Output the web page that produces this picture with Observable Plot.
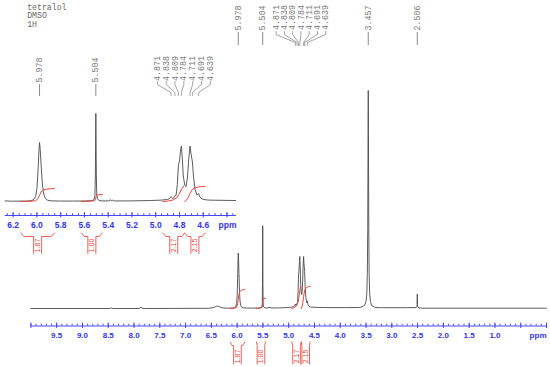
<!DOCTYPE html>
<html><head><meta charset="utf-8">
<script src="https://cdn.jsdelivr.net/npm/d3@7"></script>
<script src="https://cdn.jsdelivr.net/npm/@observablehq/plot@0.6"></script>
<style>
body{margin:0;background:#fff;}
#wrap{position:relative;width:550px;height:367px;}
#wrap svg{position:absolute;left:0;top:0;overflow:visible;}
</style></head><body><div id="wrap"></div>
<script>
// ---------- DATA ----------
const titleLines = ["tetralol", "DMSO", "1H"];
// spectrum: chemical shift (ppm) and intensity (arbitrary units, largest peak ≈ 218)
const spectrumPpm = [10.0, 8.47, 8.44, 8.41, 7.90, 7.865, 7.85, 7.80, 6.55, 6.45, 6.40, 6.36, 6.30, 6.22,
  6.10, 6.06, 6.03, 6.01, 6.00, 5.99, 5.983, 5.978, 5.973, 5.965, 5.955, 5.945, 5.93, 5.91, 5.88, 5.80, 5.70, 5.60,
  5.54, 5.52, 5.512, 5.508, 5.504, 5.500, 5.496, 5.49, 5.48, 5.46, 5.40, 5.378, 5.37, 5.362, 5.35, 5.20, 5.05,
  4.95, 4.90, 4.885, 4.871, 4.858, 4.846, 4.838, 4.828, 4.818, 4.809, 4.800, 4.792, 4.784, 4.777, 4.768, 4.755,
  4.745, 4.733, 4.722, 4.711, 4.703, 4.691, 4.681, 4.668, 4.652, 4.639, 4.627, 4.61, 4.58, 4.55, 4.50, 4.30,
  3.90, 3.65, 3.60, 3.53, 3.50, 3.485, 3.475, 3.467, 3.46, 3.457, 3.454, 3.447, 3.44, 3.43, 3.415, 3.39, 3.33,
  3.25, 3.20, 3.19, 3.18, 2.70, 2.53, 2.515, 2.51, 2.506, 2.502, 2.497, 2.48, 2.40, 0.0];
const spectrumIntensity = [0, 0, 0.6, 0, 0, 1.6, 0.3, 0, 0.2, 1.0, 2.4, 2.2, 0.8, 0.3,
  0.4, 0.6, 1.5, 5, 12, 30, 48, 55.4, 50, 35, 18, 8, 3, 1.2, 0.6, 0.4, 0.4, 0.5,
  0.8, 1.6, 5, 25, 82.7, 25, 6, 2.5, 1.2, 0.6, 0.5, 1.6, 0.6, 1.3, 0.5, 0.6, 0.9,
  1.3, 2.0, 2.6, 4.5, 2.8, 3.6, 5.5, 6, 16, 34, 38, 47, 52, 42, 24, 15,
  14, 22, 40, 52, 45, 37, 22, 11, 6, 7.5, 4, 2.4, 1.6, 1.3, 1.2, 0.9,
  0.9, 1.0, 1.3, 3, 7, 15, 35, 80, 180, 218, 180, 80, 35, 15, 7, 3, 1.2,
  0.8, 0.8, 1.5, 0.8, 0.8, 0.9, 1.8, 4, 14.4, 4, 1.8, 0.6, 0.3, 0.3];

// peak picking labels
const mainSinglePeaks = [5.978, 5.504, 3.457, 2.506];
const insetSinglePeaks = [5.978, 5.504];
const multipletPeaks = [4.871, 4.838, 4.809, 4.784, 4.711, 4.691, 4.639];

// integrals
const integralLabels = ["1.87", "1.00", "2.17", "2.15"];
const integralFrom = [6.135, 5.625, 4.94, 4.756];
const integralTo = [5.853, 5.45, 4.756, 4.584];
const integralCurves = [
  [[6.135, 0], [6.05, 0.03], [6.01, 0.12], [5.99, 0.45], [5.978, 0.9], [5.965, 1.35], [5.95, 1.62], [5.92, 1.76], [5.88, 1.83], [5.853, 1.87]],
  [[5.625, 0], [5.55, 0.04], [5.515, 0.12], [5.508, 0.3], [5.504, 0.55], [5.50, 0.8], [5.494, 0.92], [5.48, 0.97], [5.45, 1.0]],
  [[4.94, 0], [4.89, 0.08], [4.85, 0.25], [4.82, 0.6], [4.805, 1.0], [4.79, 1.5], [4.78, 1.85], [4.765, 2.17]],
  [[4.756, 0], [4.74, 0.2], [4.725, 0.6], [4.711, 1.15], [4.70, 1.5], [4.69, 1.75], [4.67, 1.97], [4.64, 2.08], [4.61, 2.13], [4.584, 2.15]]
];

// axis tick labels
const mainTickLabels = [9.5, 9.0, 8.5, 8.0, 7.5, 7.0, 6.5, 6.0, 5.5, 5.0, 4.5, 4.0, 3.5, 3.0, 2.5, 2.0, 1.5, 1.0];
const insetTickLabels = [6.2, 6.0, 5.8, 5.6, 5.4, 5.2, 5.0, 4.8, 4.6];
const unitLabel = "ppm";

// ---------- LAYOUT ----------
const W = 550, H = 367;
const BLUE = "#3434e6", BLUE_LINE = "#4646ff", RED = "#e8453c", GRAY_TXT = "#7a7a7a", GRAY_LINE = "#8a8a8a", SPEC = "#4a4a4a";
const MONO = "'Liberation Mono', 'DejaVu Sans Mono', monospace";
const SANS = "'Liberation Sans', Arial, sans-serif";

const spectrum = spectrumPpm.map((p, i) => ({ppm: p, v: spectrumIntensity[i]}));
const fmt3 = d3.format(".3f"), fmt1 = d3.format(".1f");

function buildPanel(cfg) {
  const {width, height, x0, x1, dom, axisPx, basePx, k, intK, majorTicks, minorTicks, labels, fontSize,
         singles, textSingle, lineSingle, textMulti, multiLines, colSpacing, bracket, labelPad, clip} = cfg;
  const pxp = (x1 - x0) / (dom[0] - dom[1]);
  const yy = px => (basePx - px) / k;
  const marks = [];
  // axis
  marks.push(Plot.ruleY([yy(axisPx)], {stroke: BLUE_LINE, strokeWidth: 1}));
  marks.push(Plot.ruleX(minorTicks, {x: d => d, y1: yy(axisPx), y2: yy(axisPx - 1.8), stroke: BLUE_LINE, strokeWidth: 1}));
  marks.push(Plot.ruleX(majorTicks, {x: d => d, y1: yy(axisPx + 2.5), y2: yy(axisPx - 3), stroke: BLUE_LINE, strokeWidth: 1}));
  marks.push(Plot.axisX(labels, {anchor: "bottom", tickSize: 0, tickPadding: labelPad, tickFormat: fmt1, label: null,
    fill: BLUE, fontWeight: "bold", fontSize, fontFamily: SANS}));
  marks.push(Plot.text([unitLabel], {x: dom[1], y: yy(axisPx + labelPad + fontSize * 0.42), text: d => d, textAnchor: "end",
    dx: 0, fill: BLUE, fontWeight: "bold", fontSize, fontFamily: SANS}));
  // spectrum
  marks.push(Plot.line(spectrum, {x: "ppm", y: "v", stroke: SPEC, strokeWidth: 0.9, clip}));
  // integral curves
  const ipts = [];
  integralCurves.forEach((c, j) => c.forEach(([p, v]) => ipts.push({id: j, ppm: p, v: v * intK / k})));
  marks.push(Plot.line(ipts, {x: "ppm", y: "v", z: "id", stroke: RED, strokeWidth: 1}));
  // integral brackets
  const bpts = [];
  const hw = bracket.hw / pxp, curl = bracket.curl / pxp;
  integralLabels.forEach((lab, j) => {
    const a = integralFrom[j], b = integralTo[j], c = (a + b) / 2;
    bpts.push({key: j + "L", ppm: a, v: yy(bracket.top)}, {key: j + "L", ppm: Math.max(a - curl, c + hw), v: yy(bracket.mid)},
              {key: j + "L", ppm: c + hw, v: yy(bracket.mid)}, {key: j + "L", ppm: c + hw, v: yy(bracket.bottom)});
    bpts.push({key: j + "R", ppm: b, v: yy(bracket.top)}, {key: j + "R", ppm: Math.min(b + curl, c - hw), v: yy(bracket.mid)},
              {key: j + "R", ppm: c - hw, v: yy(bracket.mid)}, {key: j + "R", ppm: c - hw, v: yy(bracket.bottom)});
  });
  marks.push(Plot.line(bpts, {x: "ppm", y: "v", z: "key", stroke: RED, strokeWidth: 1, strokeOpacity: 0.85}));
  marks.push(Plot.text(integralLabels, {x: (d, j) => (integralFrom[j] + integralTo[j]) / 2, y: yy(bracket.label),
    text: d => d, rotate: -90, fill: RED, fontSize: bracket.fs, fontFamily: SANS}));
  // peak labels: singles
  marks.push(Plot.text(singles, {x: d => d, y: yy(textSingle), text: fmt3, rotate: -90, fill: GRAY_TXT, fontSize: 8.3, fontFamily: MONO}));
  marks.push(Plot.ruleX(singles, {x: d => d, y1: yy(lineSingle[0]), y2: yy(lineSingle[1]), stroke: GRAY_LINE, strokeWidth: 1}));
  // multiplet labels
  const cm = d3.mean(multipletPeaks);
  const n = multipletPeaks.length;
  const cols = multipletPeaks.map((p, i) => cm - (i - (n - 1) / 2) * colSpacing / pxp);
  marks.push(Plot.text(multipletPeaks, {x: (d, i) => cols[i], y: yy(textMulti), text: fmt3, rotate: -90, fill: GRAY_TXT, fontSize: 8.3, fontFamily: MONO}));
  const lpts = [];
  multipletPeaks.forEach((p, i) => {
    lpts.push({k: i, ppm: cols[i], v: yy(multiLines[0])}, {k: i, ppm: cols[i], v: yy(multiLines[1])},
              {k: i, ppm: p, v: yy(multiLines[2])}, {k: i, ppm: p, v: yy(multiLines[3])});
  });
  marks.push(Plot.line(lpts, {x: "ppm", y: "v", z: "k", stroke: GRAY_LINE, strokeWidth: 0.8}));
  if (cfg.extra) marks.push(...cfg.extra(yy));
  return Plot.plot({
    width, height,
    marginLeft: x0, marginRight: width - x1, marginTop: 0, marginBottom: height - axisPx,
    x: {domain: dom, label: null},
    y: {domain: [yy(axisPx), yy(0)], axis: null},
    style: {background: "transparent", fontFamily: SANS, overflow: "visible"},
    marks
  });
}

const mainPlot = buildPanel({
  width: W, height: H, x0: 30.4, x1: 546, dom: [10, 0], axisPx: 325.5, basePx: 308, k: 1, intK: 10.3,
  majorTicks: d3.range(0, 21).map(i => 10 - i * 0.5),
  minorTicks: d3.range(0, 101).map(i => +(10 - i * 0.1).toFixed(1)),
  labels: mainTickLabels, fontSize: 8, labelPad: 6,
  singles: mainSinglePeaks, textSingle: 17.5, lineSingle: [32, 45],
  textMulti: 17, multiLines: [31, 34, 42, 45], colSpacing: 8.27,
  bracket: {top: 341.5, mid: 345, bottom: 363.5, hw: 3.8, curl: 2, label: 356, fs: 7},
  clip: false,
  extra: yy => [Plot.text([titleLines.join("\n")], {frameAnchor: "top-left", dx: -3.7, dy: 3.5, text: d => d,
    textAnchor: "start", lineAnchor: "top", lineHeight: 1.02, fill: "#666", fontSize: 8.2, fontFamily: MONO})]
});

const insetPlot = buildPanel({
  width: 240, height: 262, x0: 4.7, x1: 236, dom: [6.267, 4.32], axisPx: 215, basePx: 201, k: 1.065, intK: 7,
  majorTicks: d3.range(0, 10).map(i => +(6.2 - i * 0.2).toFixed(2)),
  minorTicks: d3.range(0, 39).map(i => +(6.25 - i * 0.05).toFixed(2)),
  labels: insetTickLabels, fontSize: 8.5, labelPad: 6.5,
  singles: insetSinglePeaks, textSingle: 69.5, lineSingle: [84, 96],
  textMulti: 68, multiLines: [81, 84, 92, 95], colSpacing: 8.83,
  bracket: {top: 232.5, mid: 236, bottom: 253, hw: 4, curl: 3, label: 245, fs: 7},
  clip: true
});

const wrap = document.getElementById("wrap");
wrap.appendChild(mainPlot);
wrap.appendChild(insetPlot);
</script></body></html>
